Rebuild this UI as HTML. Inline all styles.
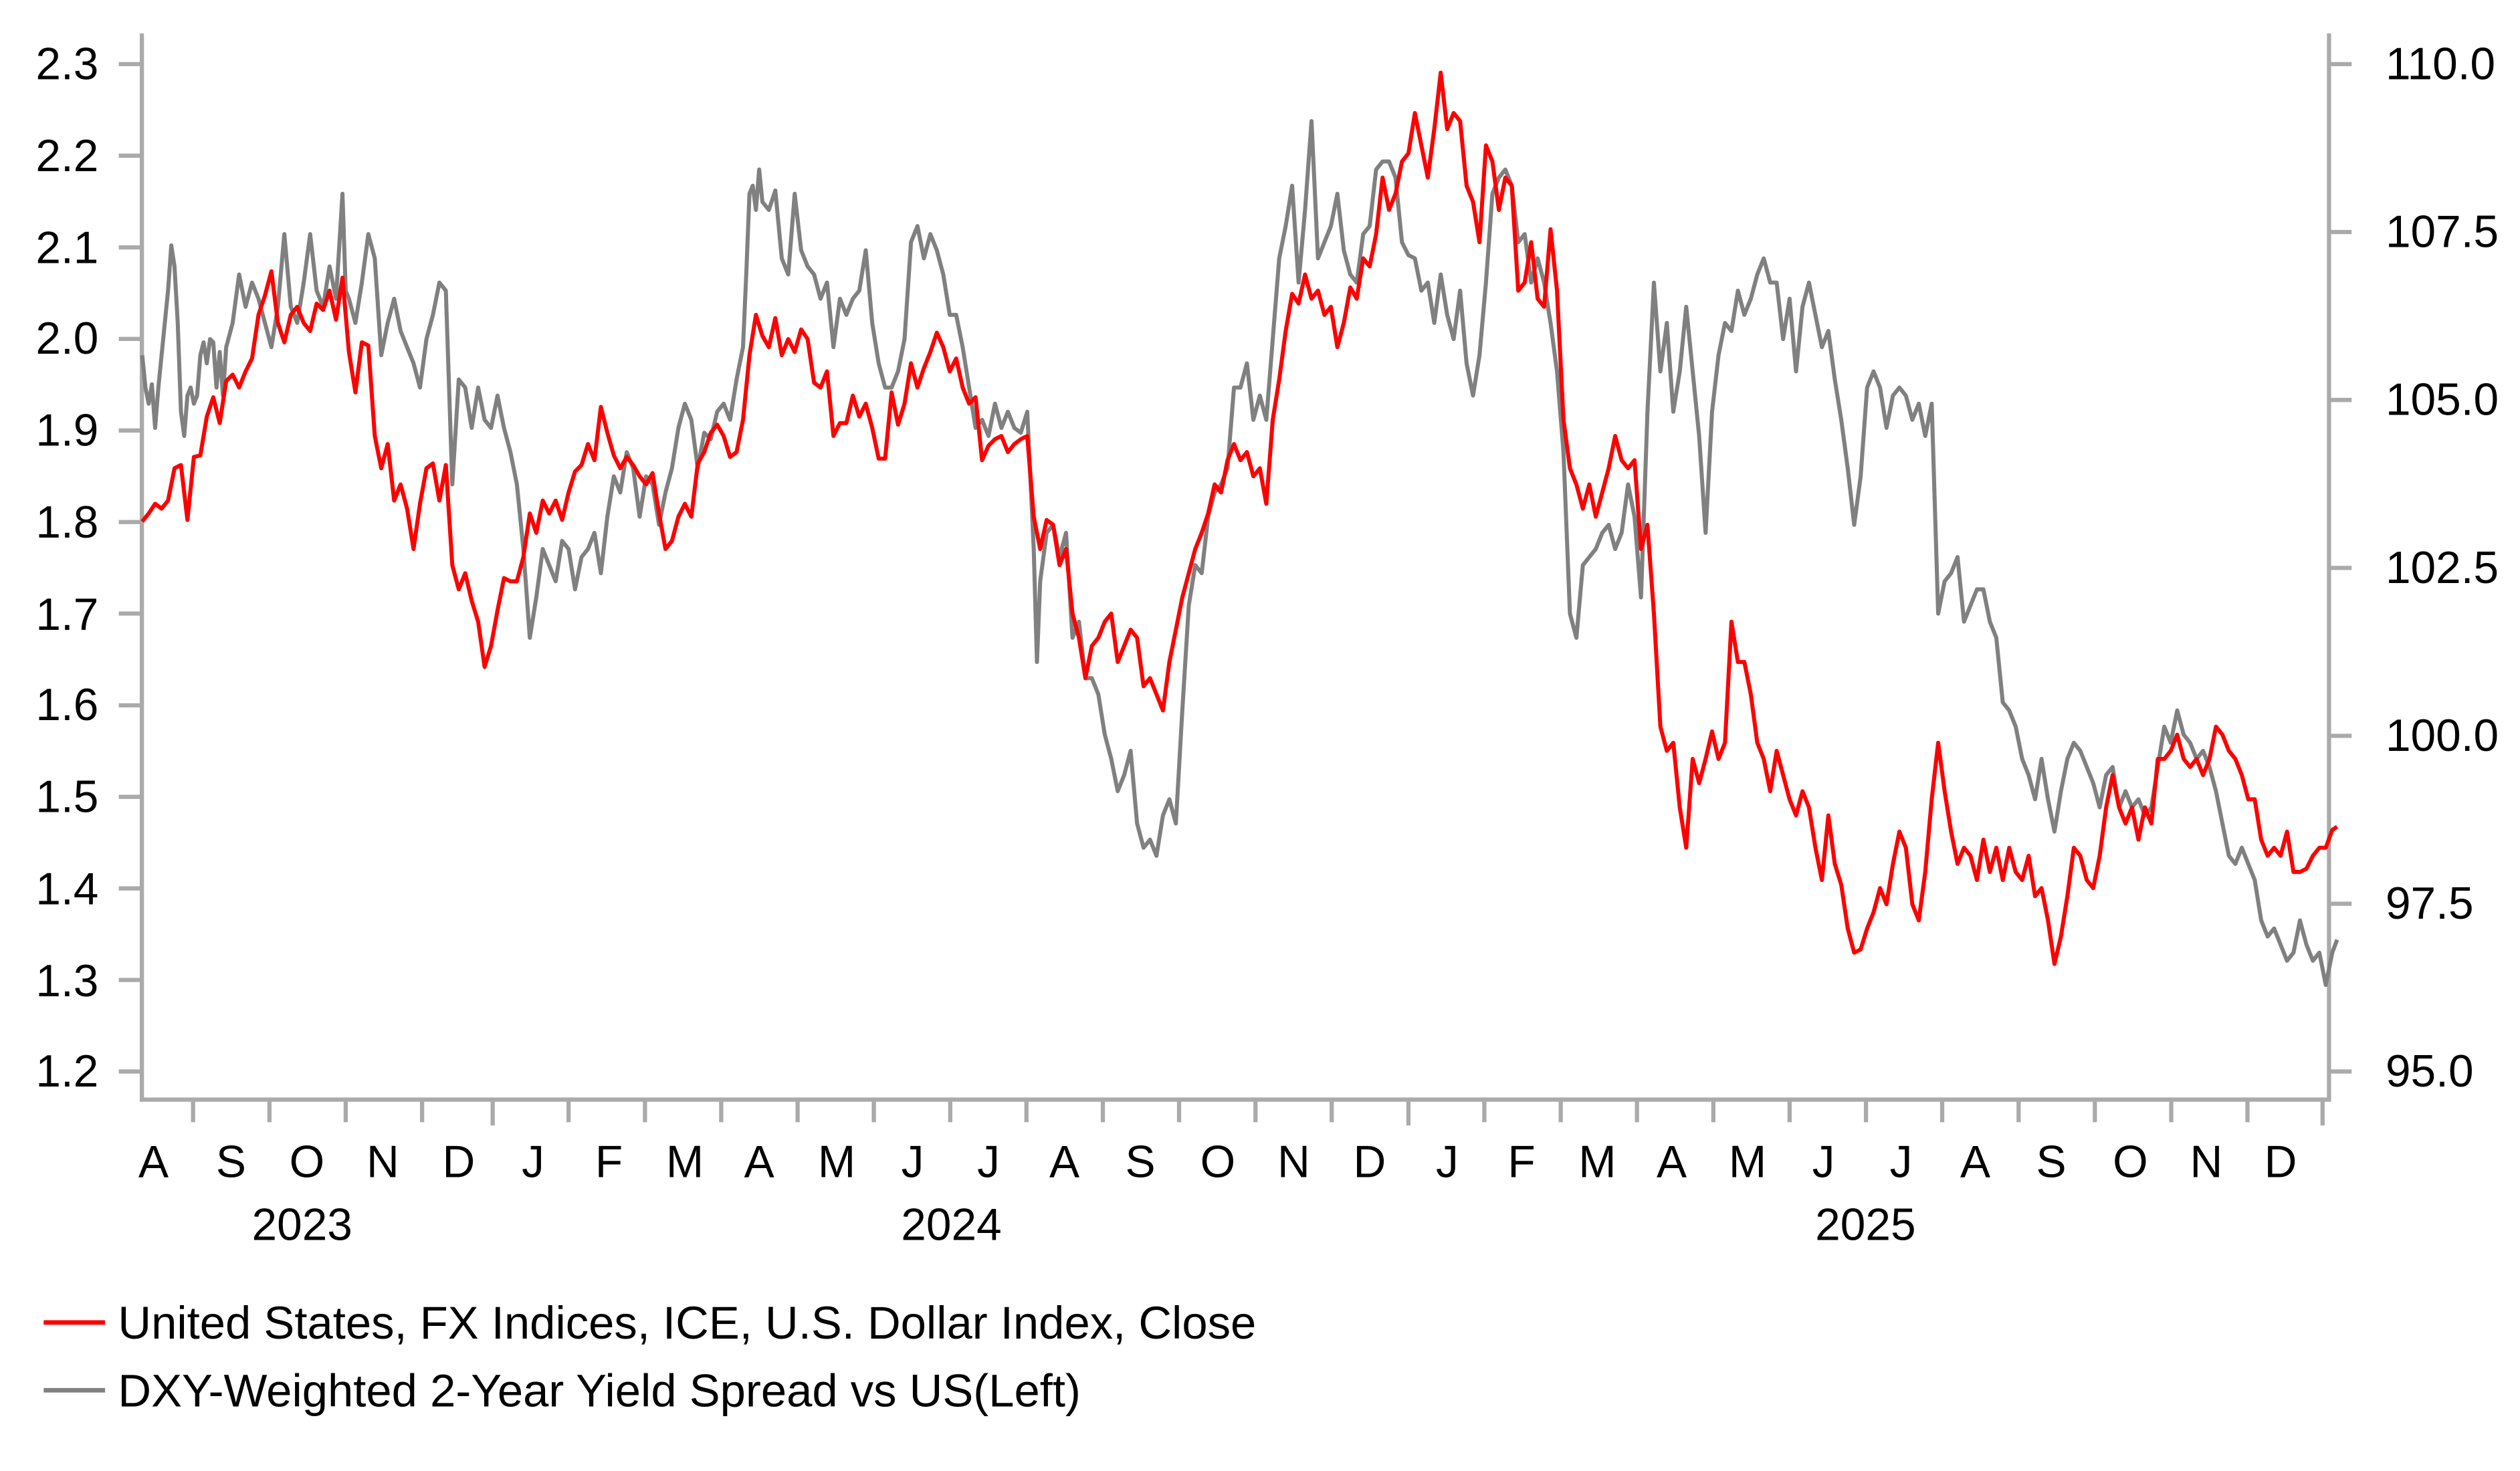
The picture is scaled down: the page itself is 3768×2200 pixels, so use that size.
<!DOCTYPE html>
<html><head><meta charset="utf-8"><style>
html,body{margin:0;padding:0;background:#fff;}
svg{display:block;}
text{font-family:"Liberation Sans",Arial,sans-serif;fill:#000;}
</style></head><body>
<svg width="3768" height="2200" viewBox="0 0 1560.2 911" xmlns="http://www.w3.org/2000/svg">
<g stroke="#aaa" stroke-width="2.6" fill="none">
<path d="M87.8 20.7 V681 H1442 V20.7"/>
<path d="M73.5 39.7H87.8M73.5 96.4H87.8M73.5 153.2H87.8M73.5 209.9H87.8M73.5 266.6H87.8M73.5 323.3H87.8M73.5 380H87.8M73.5 436.8H87.8M73.5 493.5H87.8M73.5 550.2H87.8M73.5 606.9H87.8M73.5 663.6H87.8"/>
<path d="M1442 39.7H1456M1442 143.7H1456M1442 247.7H1456M1442 351.7H1456M1442 455.7H1456M1442 559.7H1456M1442 663.6H1456"/>
<path d="M119.5 681v14M166.8 681v14M214 681v14M261.3 681v14M352 681v14M399.3 681v14M446.5 681v14M493.8 681v14M541 681v14M588.3 681v14M635.5 681v14M682.8 681v14M730 681v14M777.3 681v14M824.5 681v14M919 681v14M966.3 681v14M1013.5 681v14M1060.8 681v14M1108 681v14M1155.3 681v14M1202.5 681v14M1249.8 681v14M1297 681v14M1344.3 681v14M1391.5 681v14"/>
<path d="M305 681v16M872 681v16M1438 681v16"/>
</g>
<g font-size="28" text-anchor="end">
<text x="61" y="49">2.3</text><text x="61" y="106">2.2</text><text x="61" y="163">2.1</text><text x="61" y="219">2.0</text><text x="61" y="276">1.9</text><text x="61" y="333">1.8</text><text x="61" y="390">1.7</text><text x="61" y="446">1.6</text><text x="61" y="503">1.5</text><text x="61" y="560">1.4</text><text x="61" y="617">1.3</text><text x="61" y="673">1.2</text>
</g>
<g font-size="28">
<text x="1477" y="49">110.0</text><text x="1477" y="153">107.5</text><text x="1477" y="257">105.0</text><text x="1477" y="361">102.5</text><text x="1477" y="465">100.0</text><text x="1477" y="569">97.5</text><text x="1477" y="673">95.0</text>
</g>
<g font-size="28" text-anchor="middle">
<text x="95" y="729">A</text><text x="143" y="729">S</text><text x="190" y="729">O</text><text x="237" y="729">N</text><text x="284" y="729">D</text><text x="330" y="729">J</text><text x="377" y="729">F</text><text x="424" y="729">M</text><text x="470" y="729">A</text><text x="518" y="729">M</text><text x="565" y="729">J</text><text x="612" y="729">J</text><text x="659" y="729">A</text><text x="706" y="729">S</text><text x="754" y="729">O</text><text x="801" y="729">N</text><text x="848" y="729">D</text><text x="896" y="729">J</text><text x="942" y="729">F</text><text x="989" y="729">M</text><text x="1035" y="729">A</text><text x="1082" y="729">M</text><text x="1129" y="729">J</text><text x="1177" y="729">J</text><text x="1223" y="729">A</text><text x="1270" y="729">S</text><text x="1319" y="729">O</text><text x="1366" y="729">N</text><text x="1412" y="729">D</text>
<text x="187" y="768">2023</text><text x="589" y="768">2024</text><text x="1155" y="768">2025</text>
</g>
<polyline fill="none" stroke="#808080" stroke-width="2.5" stroke-linejoin="round" points="88,220 90,240 92,250 94,238 96,265 98,240 100,220 102,200 104,180 106,152 108,165 110,200 112,255 114,270 116,245 118,240 120,250 122,245 124,220 126,212 128,225 130,210 132,212 134,240 136,218 138,245 140,215 144,200 148,170 152,190 156,175 160,185 164,200 168,215 172,190 176,145 180,190 184,200 188,175 192,145 196,180 200,190 204,165 208,185 212,120 214,180 216,185 220,200 224,175 228,145 232,160 236,220 240,200 244,185 248,205 252,215 256,225 260,240 264,210 268,195 272,175 276,180 280,300 284,235 288,240 292,265 296,240 300,260 304,265 308,245 312,265 316,280 320,300 324,340 328,395 332,370 336,340 340,350 344,360 348,335 352,340 356,365 360,345 364,340 368,330 372,355 376,320 380,295 384,305 388,280 392,290 396,320 400,295 404,300 408,325 412,305 416,290 420,265 424,250 428,260 432,290 436,268 440,272 444,255 448,250 452,260 456,235 460,215 462,170 464,120 466,115 468,130 470,105 472,125 476,130 480,118 484,160 488,170 492,120 496,155 500,165 504,170 508,185 512,175 516,215 520,185 524,195 528,185 532,180 536,155 540,200 544,225 548,240 552,240 556,230 560,210 564,150 568,140 572,160 576,145 580,155 584,170 588,195 592,195 596,215 600,240 604,265 608,260 612,270 616,250 620,265 624,255 628,265 632,268 636,255 640,340 642,410 644,360 648,330 652,325 656,345 660,330 664,395 668,385 672,420 676,420 680,430 684,455 688,470 692,490 696,480 700,465 704,510 708,525 712,520 716,530 720,505 724,495 728,510 732,440 736,375 740,350 744,355 748,320 752,305 756,300 760,290 764,240 768,240 772,225 776,260 780,245 784,260 788,210 792,160 796,140 800,115 804,175 808,130 812,75 816,160 820,150 824,140 828,120 832,155 836,170 840,175 844,145 848,140 852,105 856,100 860,100 864,110 868,150 872,158 876,160 880,180 884,175 888,200 892,170 896,195 900,210 904,180 908,225 912,245 916,220 920,175 924,120 928,110 932,105 936,115 940,150 944,145 948,175 952,160 956,175 960,200 964,230 968,280 972,380 976,395 980,350 984,345 988,340 992,330 996,325 1000,340 1004,330 1008,300 1012,320 1016,370 1020,255 1024,175 1028,230 1032,200 1036,255 1040,230 1044,190 1048,230 1052,270 1056,330 1060,255 1064,220 1068,200 1072,205 1076,180 1080,195 1084,185 1088,170 1092,160 1096,175 1100,175 1104,210 1108,185 1112,230 1116,190 1120,175 1124,195 1128,215 1132,205 1136,235 1140,260 1144,290 1148,325 1152,295 1156,240 1160,230 1164,240 1168,265 1172,245 1176,240 1180,245 1184,260 1188,250 1192,270 1196,250 1200,380 1204,360 1208,355 1212,345 1216,385 1220,375 1224,365 1228,365 1232,385 1236,395 1240,435 1244,440 1248,450 1252,470 1256,480 1260,495 1264,470 1268,495 1272,515 1276,490 1280,470 1284,460 1288,465 1292,475 1296,485 1300,500 1304,480 1308,475 1312,500 1316,490 1320,500 1324,495 1328,505 1332,500 1336,475 1340,450 1344,460 1348,440 1352,455 1356,460 1360,470 1364,465 1368,475 1372,490 1376,510 1380,530 1384,535 1388,525 1392,535 1396,545 1400,570 1404,580 1408,575 1412,585 1416,595 1420,590 1424,570 1428,585 1432,595 1436,590 1440,610 1444,590 1447,582"/>
<polyline fill="none" stroke="#ff0000" stroke-width="2.5" stroke-linejoin="round" points="88,323 92,318 96,312 100,315 104,310 108,290 112,288 116,322 120,283 124,282 128,258 132,246 136,262 140,236 144,232 148,240 152,230 156,222 160,195 164,183 168,168 172,200 176,212 180,195 184,190 188,200 192,205 196,188 200,192 204,180 208,198 212,172 216,218 220,243 224,212 228,214 232,270 236,290 240,275 244,310 248,300 252,315 256,340 260,312 264,290 268,287 272,310 276,288 280,350 284,365 288,355 292,372 296,385 300,413 304,400 308,378 312,358 316,360 320,360 324,345 328,318 332,330 336,310 340,318 344,310 348,322 352,305 356,292 360,288 364,275 368,285 372,252 376,268 380,282 384,290 388,283 392,288 396,295 400,300 404,293 408,318 412,340 416,335 420,320 424,312 428,320 432,287 436,280 440,268 444,263 448,270 452,283 456,280 460,260 464,220 468,195 472,208 476,215 480,197 484,220 488,210 492,218 496,204 500,210 504,237 508,240 512,230 516,270 520,262 524,262 528,245 532,258 536,250 540,265 544,284 548,284 552,243 556,263 560,250 564,225 568,240 572,228 576,218 580,206 584,215 588,230 592,222 596,240 600,250 604,246 608,285 612,276 616,272 620,270 624,280 628,275 632,272 636,270 640,320 644,340 648,322 652,325 656,350 660,340 664,380 668,395 672,420 676,400 680,395 684,385 688,380 692,410 696,400 700,390 704,395 708,425 712,420 716,430 720,440 724,410 728,390 732,370 736,355 740,340 744,330 748,318 752,300 756,305 760,285 764,275 768,285 772,280 776,295 780,290 784,312 788,260 792,235 796,205 800,182 804,188 808,170 812,185 816,180 820,195 824,190 828,215 832,200 836,178 840,185 844,160 848,165 852,145 856,110 860,130 864,120 868,100 872,95 876,70 880,90 884,110 888,80 892,45 896,80 900,70 904,75 908,115 912,125 916,150 920,90 924,100 928,130 932,110 936,115 940,180 944,175 948,150 952,185 956,190 960,142 964,180 968,260 972,290 976,300 980,315 984,300 988,320 992,305 996,290 1000,270 1004,285 1008,290 1012,285 1016,340 1020,325 1024,380 1028,450 1032,465 1036,460 1040,500 1044,525 1048,470 1052,485 1056,470 1060,453 1064,470 1068,460 1072,385 1076,410 1080,410 1084,430 1088,460 1092,470 1096,490 1100,465 1104,480 1108,495 1112,505 1116,490 1120,500 1124,525 1128,545 1132,505 1136,535 1140,548 1144,575 1148,590 1152,588 1156,575 1160,565 1164,550 1168,560 1172,535 1176,515 1180,525 1184,560 1188,570 1192,540 1196,495 1200,460 1204,490 1208,515 1212,535 1216,525 1220,530 1224,545 1228,520 1232,540 1236,525 1240,545 1244,525 1248,540 1252,545 1256,530 1260,555 1264,550 1268,570 1272,597 1276,580 1280,555 1284,525 1288,530 1292,545 1296,550 1300,530 1304,500 1308,480 1312,500 1316,510 1320,500 1324,520 1328,500 1332,510 1336,470 1340,470 1344,465 1348,455 1352,470 1356,475 1360,470 1364,480 1368,470 1372,450 1376,455 1380,465 1384,470 1388,480 1392,495 1396,495 1400,520 1404,530 1408,525 1412,530 1416,515 1420,540 1424,540 1428,538 1432,530 1436,525 1440,525 1444,514 1447,512"/>
<line x1="27" y1="819" x2="65" y2="819" stroke="#ff0000" stroke-width="2.8"/>
<line x1="27" y1="861" x2="65" y2="861" stroke="#808080" stroke-width="2.8"/>
<g font-size="28.5">
<text x="73" y="829">United States, FX Indices, ICE, U.S. Dollar Index, Close</text>
<text x="73" y="871">DXY-Weighted 2-Year Yield Spread vs US(Left)</text>
</g>
</svg>
</body></html>
